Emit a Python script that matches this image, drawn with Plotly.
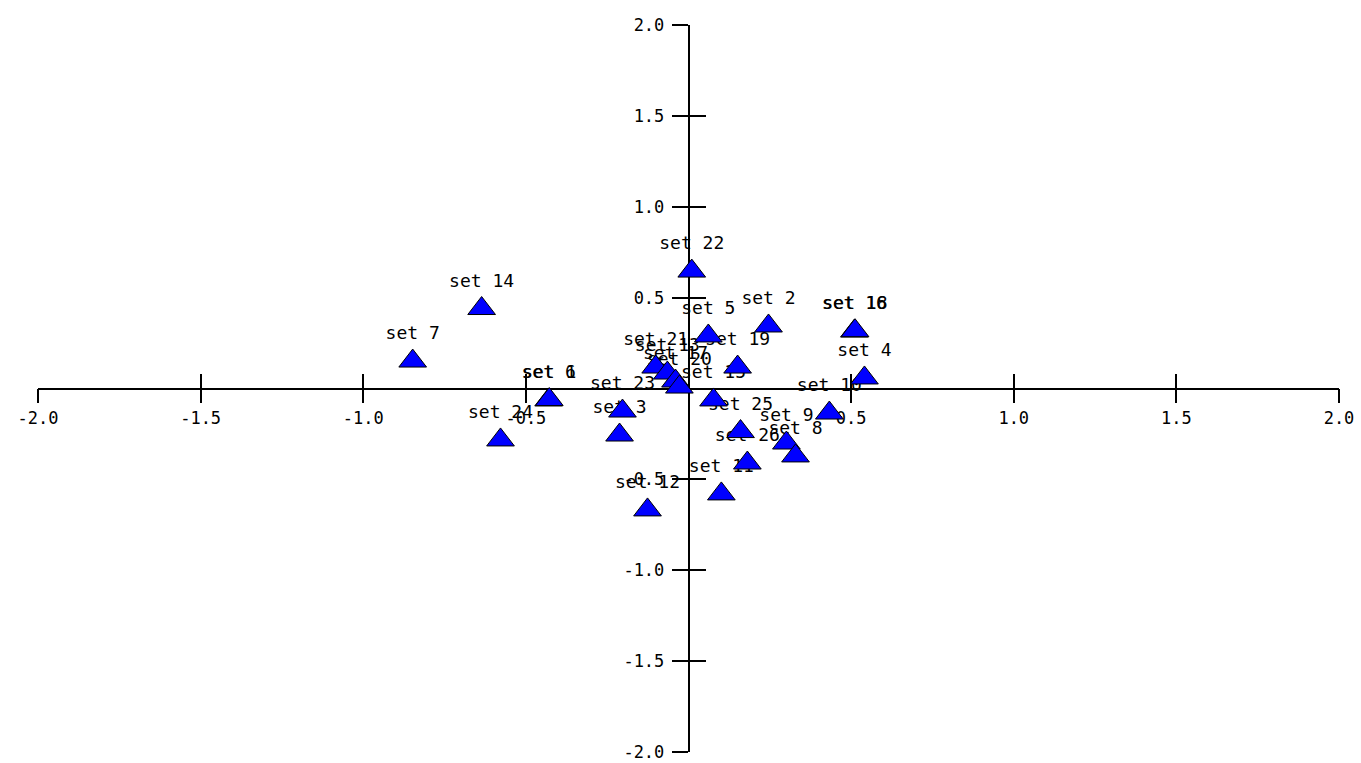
import plotly.graph_objects as go

labels = ["set 22", "set 14", "set 7", "set 5", "set 2", "set 16", "set 18", "set 4",
          "set 19", "set 21", "set 13", "set 17", "set 20", "set 15", "set 25", "set 26",
          "set 9", "set 8", "set 10", "set 11", "set 12", "set 3", "set 23", "set 6",
          "set 1", "set 24"]
x_vals = [0.01, -0.636, -0.848, 0.061, 0.246, 0.510, 0.512, 0.541,
          0.151, -0.101, -0.065, -0.040, -0.028, 0.077, 0.160, 0.181,
          0.301, 0.329, 0.433, 0.101, -0.126, -0.212, -0.203, -0.430,
          -0.428, -0.578]
y_vals = [0.646, 0.44, 0.151, 0.289, 0.344, 0.316, 0.318, 0.058,
          0.118, 0.118, 0.085, 0.041, 0.008, -0.063, -0.237, -0.410,
          -0.300, -0.371, -0.135, -0.580, -0.668, -0.256, -0.124, -0.063,
          -0.061, -0.283]

tick_vals = [-2.0, -1.5, -1.0, -0.5, 0.5, 1.0, 1.5, 2.0]
tick_text = ["-2.0", "-1.5", "-1.0", "-0.5", "0.5", "1.0", "1.5", "2.0"]

FONT = "DejaVu Sans Mono"

fig = go.Figure()
# labels (drawn below the triangles)
fig.add_trace(go.Scatter(
    x=x_vals, y=y_vals, text=labels, mode="markers+text",
    textposition="top center",
    textfont=dict(family=FONT, size=18, color="black"),
    marker=dict(size=26, color="rgba(0,0,0,0)", line=dict(width=0)),
    hoverinfo="skip", showlegend=False, xaxis="x", yaxis="y",
))
# triangles
fig.add_trace(go.Scatter(
    x=x_vals, y=y_vals, mode="markers", text=labels,
    marker=dict(symbol="triangle-up", size=24, color="#0000FF",
                line=dict(width=1, color="black")),
    showlegend=False, xaxis="x2", yaxis="y2",
))

axis_common = dict(range=[-2, 2], showgrid=False, zeroline=False,
                   tickvals=tick_vals, ticktext=tick_text,
                   tickfont=dict(family=FONT, size=17, color="black"),
                   tickcolor="black", tickwidth=1.5, layer="below traces",
                   automargin=False, fixedrange=True)

fig.update_layout(
    template="none",
    width=1361, height=763,
    margin=dict(l=38, r=22, t=25, b=11, autoexpand=False),
    paper_bgcolor="white", plot_bgcolor="white",
    xaxis=dict(**axis_common, anchor="free", position=0.5,
               showline=True, linecolor="black", linewidth=1.5,
               ticks="outside", ticklen=14, side="bottom"),
    yaxis=dict(**axis_common, anchor="free", position=0.5,
               showline=True, linecolor="black", linewidth=1.5,
               ticks="outside", ticklen=16, side="left", ticklabelstandoff=4),
    xaxis2=dict(**axis_common, overlaying="x", matches="x", anchor="free", position=0.5,
                showline=False, ticks="inside", ticklen=15, showticklabels=False, side="bottom"),
    yaxis2=dict(**axis_common, overlaying="y", matches="y", anchor="free", position=0.5,
                showline=False, ticks="inside", ticklen=16, showticklabels=False, side="left"),
)

fig.write_html("out.html", config={"displayModeBar": False},
               post_script="document.body.style.margin='0';")
